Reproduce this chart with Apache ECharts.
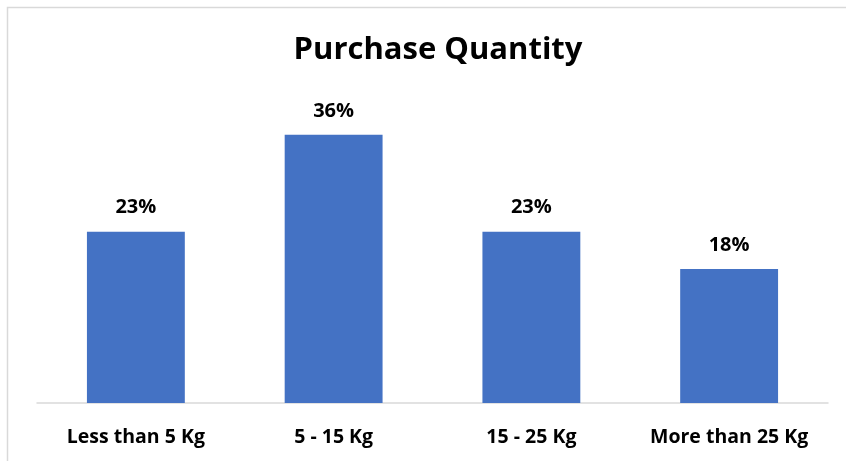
<!DOCTYPE html>
<html>
<head>
<meta charset="utf-8">
<script src="https://cdn.jsdelivr.net/npm/echarts@6/dist/echarts.min.js"></script>
<style>html,body{margin:0;padding:0;background:#fff}#c{width:846px;height:461px}</style>
</head>
<body>
<div id="c"></div>
<script>
const titleText = 'Purchase Quantity';
const categories = ['Less than 5 Kg', '5 - 15 Kg', '15 - 25 Kg', 'More than 25 Kg'];
const values = [23, 36, 23, 18];

const chart = echarts.init(document.getElementById('c'), null, {renderer: 'canvas'});
chart.setOption({
  backgroundColor: '#ffffff',
  animation: false,
  title: {
    text: titleText,
    left: 433,
    textAlign: 'center',
    top: 30,
    textStyle: {fontFamily: 'Open Sans', fontWeight: 'bold', fontSize: 31, color: '#000'}
  },
  graphic: [{
    type: 'rect',
    shape: {x: 7.5, y: 7.5, width: 900, height: 500},
    style: {fill: 'none', stroke: '#d9d9d9', lineWidth: 1.5},
    silent: true
  }],
  grid: {left: 37, right: 18, top: 105, bottom: 58},
  xAxis: {
    type: 'category',
    data: categories,
    axisLine: {lineStyle: {color: '#d9d9d9', width: 1.5}},
    axisTick: {show: false},
    axisLabel: {
      interval: 0,
      hideOverlap: false,
      margin: 24,
      fontFamily: 'Open Sans', fontWeight: 'bold', fontSize: 19.5, color: '#000'
    }
  },
  yAxis: {
    type: 'value', min: 0, max: 40, interval: 10,
    show: false, splitLine: {show: false}
  },
  series: [{
    type: 'bar',
    data: values,
    barWidth: '49.5%',
    itemStyle: {color: '#4472C4'},
    label: {
      show: true, position: 'top', distance: 14,
      formatter: p => p.value + '%',
      fontFamily: 'Open Sans', fontWeight: 'bold', fontSize: 20, color: '#000'
    }
  }]
});
</script>
</body>
</html>
